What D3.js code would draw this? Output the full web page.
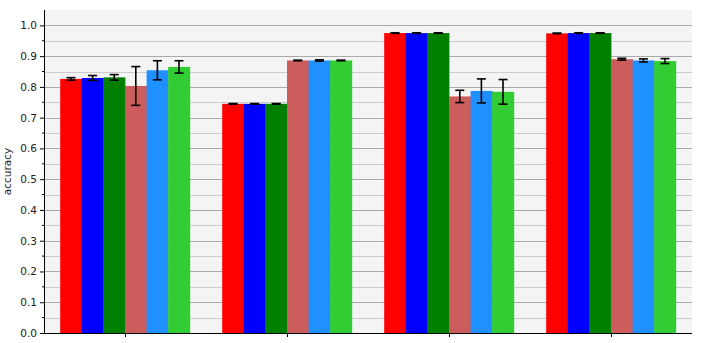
<!DOCTYPE html>
<html lang="en">
<head>
  <meta charset="utf-8">
  <title>accuracy</title>
  <style>
    body { margin: 0; background: #fff; }
    svg { font-family: "DejaVu Sans", sans-serif; }
  </style>
</head>
<body>
  <div id="chart"></div>
  <script src="https://d3js.org/d3.v7.min.js"></script>
  <script>
const groups = ["g1", "g2", "g3", "g4"];
const seriesNames = ["s1", "s2", "s3", "s4", "s5", "s6"];
const seriesColors = ["#ff0000", "#0000ff", "#008000", "#cd5c5c", "#1e90ff", "#32cd32"];
// mean accuracy per series, one entry per group
const means = [
  [0.826, 0.745, 0.975, 0.974],
  [0.829, 0.745, 0.975, 0.975],
  [0.831, 0.745, 0.975, 0.975],
  [0.803, 0.886, 0.769, 0.890],
  [0.854, 0.886, 0.787, 0.886],
  [0.865, 0.886, 0.784, 0.884]
];
const errors = [
  [0.004, 0.001, 0.001, 0.001],
  [0.008, 0.001, 0.001, 0.001],
  [0.009, 0.001, 0.001, 0.001],
  [0.063, 0.001, 0.020, 0.003],
  [0.031, 0.002, 0.039, 0.005],
  [0.020, 0.001, 0.040, 0.008]
];
const yTicks = [0.0, 0.1, 0.2, 0.3, 0.4, 0.5, 0.6, 0.7, 0.8, 0.9, 1.0];

const width = 705, height = 343;
const margin = { top: 10, right: 13, bottom: 10, left: 44 };

const svg = d3.select("#chart").append("svg")
    .attr("width", width)
    .attr("height", height);

const x = d3.scaleLinear().domain([-0.5, groups.length - 0.5])
    .range([margin.left, width - margin.right]);
const y = d3.scaleLinear().domain([0, 1.05])
    .range([height - margin.bottom, margin.top]);

const barW = 0.8 / seriesNames.length;

// background
svg.append("rect")
    .attr("x", x(-0.5)).attr("y", y(1.05))
    .attr("width", x(3.5) - x(-0.5))
    .attr("height", y(0) - y(1.05))
    .attr("fill", "#f4f4f4");

// grid
const minor = d3.range(0.05, 1.05, 0.1);
svg.selectAll(".minor").data(minor).enter().append("line")
    .attr("x1", x(-0.5)).attr("x2", x(3.5))
    .attr("y1", d => Math.round(y(d)) + 0.5).attr("y2", d => Math.round(y(d)) + 0.5)
    .attr("stroke", "#cccccc").attr("stroke-width", 1);
svg.selectAll(".major").data(yTicks.slice(1)).enter().append("line")
    .attr("x1", x(-0.5)).attr("x2", x(3.5))
    .attr("y1", d => Math.round(y(d)) + 0.5).attr("y2", d => Math.round(y(d)) + 0.5)
    .attr("stroke", "#aaaaaa").attr("stroke-width", 1.2);

// bars
seriesNames.forEach((s, si) => {
    const off = -0.4 + barW * si;
    svg.append("g").selectAll("rect").data(means[si]).enter().append("rect")
        .attr("x", (d, gi) => x(gi + off))
        .attr("width", x(barW) - x(0) + 0.4)
        .attr("y", d => y(d))
        .attr("height", d => y(0) - y(d))
        .attr("fill", seriesColors[si]);
});

// error bars
seriesNames.forEach((s, si) => {
    const off = -0.4 + barW * si + barW / 2;
    const g = svg.append("g").attr("stroke", "#000").attr("stroke-width", 1.6);
    means[si].forEach((m, gi) => {
        const e = errors[si][gi];
        const cx = x(gi + off);
        g.append("line").attr("x1", cx).attr("x2", cx)
            .attr("y1", y(m - e)).attr("y2", y(m + e));
        [m - e, m + e].forEach(v => {
            g.append("line").attr("x1", cx - 4.5).attr("x2", cx + 4.5)
                .attr("y1", y(v)).attr("y2", y(v));
        });
    });
});

// axes
const yAxis = d3.axisLeft(y).tickValues(yTicks).tickFormat(d3.format(".1f"))
    .tickSize(4).tickPadding(3);
const ya = svg.append("g").attr("transform", `translate(${margin.left},0)`).call(yAxis);
ya.selectAll(".minor-tick").data(minor).enter().append("line")
    .attr("x1", -2).attr("x2", 0)
    .attr("y1", d => y(d)).attr("y2", d => y(d))
    .attr("stroke", "#000");
ya.select(".domain").attr("d", `M0.5,${y(1.05)}V${y(0)}`);

const xAxis = d3.axisBottom(x).tickValues(d3.range(groups.length)).tickFormat("")
    .tickSize(4);
const xa = svg.append("g").attr("transform", `translate(0,${y(0)})`).call(xAxis);
xa.select(".domain").attr("d", `M${x(-0.5)},0.5H${x(3.5)}`);

svg.selectAll(".tick text").attr("font-size", 10.5).attr("fill", "#222")
    .attr("font-family", "DejaVu Sans, sans-serif");

svg.append("text")
    .attr("transform", `translate(11,${(y(0) + y(1.05)) / 2}) rotate(-90)`)
    .attr("text-anchor", "middle")
    .attr("font-size", 10.5)
    .attr("fill", "#222")
    .text("accuracy");
  </script>
</body>
</html>
